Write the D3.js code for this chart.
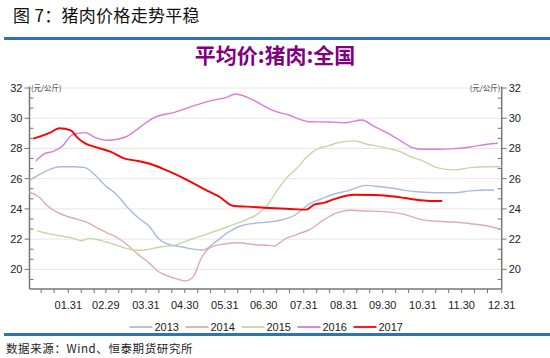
<!DOCTYPE html>
<html>
<head>
<meta charset="utf-8">
<script src="https://cdn.jsdelivr.net/npm/d3@7"></script>
<style>
  html, body { margin: 0; padding: 0; background: #fff; }
  svg { display: block; }
  text { font-family: "Liberation Sans", "DejaVu Sans", sans-serif; }
  .cjk { font-family: "Noto Sans CJK SC", sans-serif; }
</style>
</head>
<body>
<svg id="chart" width="550" height="358"></svg>
<script>
// series data (month-day on a common year axis, price in 元/公斤)
var years = ["2013", "2014", "2015", "2016", "2017"];

var dates2013 = ["01-01","01-09","01-17","01-24","02-04","02-13","02-20","02-29","03-08","03-17","03-25","04-03","04-09","04-17","04-28","05-08","05-14","05-23","06-02","06-12","06-23","07-04","07-13","07-24","08-05","08-13","08-23","09-03","09-17","09-28","10-05","10-17","10-29","11-11","11-24","12-07","12-20","12-25"];
var values2013 = [25.89,26.29,26.62,26.79,26.79,26.73,26.29,25.52,24.97,24.08,23.42,22.80,22.09,21.66,21.48,21.32,21.28,21.76,22.42,22.87,23.05,23.13,23.25,23.58,24.37,24.64,24.97,25.19,25.56,25.47,25.40,25.23,25.12,25.07,25.07,25.19,25.25,25.23];

var dates2014 = ["01-01","01-09","01-15","01-23","01-31","02-07","02-15","02-22","03-01","03-09","03-16","03-25","04-03","04-09","04-17","04-25","04-30","05-06","05-13","05-21","05-31","06-10","06-23","07-04","07-08","07-16","07-26","08-05","08-16","08-26","09-05","09-18","09-26","10-05","10-17","10-29","11-11","11-24","12-07","12-20","12-31"];
var values2014 = [25.12,24.74,24.19,23.75,23.48,23.31,23.09,22.76,22.42,22.09,21.66,20.99,20.38,19.89,19.56,19.34,19.23,19.44,20.77,21.50,21.68,21.76,21.63,21.59,21.54,21.99,22.32,22.65,23.31,23.75,23.91,23.86,23.84,23.79,23.64,23.31,23.18,23.13,23.02,22.87,22.65];

var dates2015 = ["01-07","01-15","01-25","02-04","02-10","02-16","02-25","03-06","03-14","03-22","03-27","04-03","04-11","04-22","05-05","05-18","06-02","06-17","06-25","07-03","07-11","07-18","07-26","08-03","08-11","08-19","08-26","09-08","09-18","09-28","10-05","10-14","10-22","10-29","11-11","11-24","12-07","12-20","12-31"];
var values2015 = [22.54,22.38,22.21,22.05,21.89,22.05,21.92,21.66,21.43,21.28,21.26,21.34,21.48,21.59,21.99,22.36,22.82,23.31,23.64,24.25,25.30,26.07,26.73,27.50,27.99,28.17,28.38,28.50,28.28,28.12,27.99,27.77,27.44,27.24,26.73,26.58,26.73,26.79,26.79];

var dates2016 = ["01-06","01-12","01-20","01-26","02-03","02-13","02-21","03-01","03-09","03-17","03-26","04-03","04-06","04-22","05-08","05-21","06-02","06-08","06-17","06-28","07-04","07-11","07-20","07-28","08-04","08-20","09-01","09-14","09-23","10-05","10-14","10-23","10-29","11-11","11-24","12-07","12-20","12-28"];
var values2016 = [27.17,27.62,27.83,28.12,28.89,29.05,28.72,28.54,28.61,28.83,29.38,29.87,30.02,30.39,30.85,31.18,31.40,31.60,31.40,30.92,30.63,30.40,30.20,29.92,29.77,29.75,29.70,29.88,29.48,28.97,28.50,28.05,27.95,27.95,27.99,28.10,28.28,28.34];

var dates2017 = ["01-04","01-17","01-24","02-02","02-07","02-13","02-20","03-04","03-14","03-25","04-03","04-17","05-02","05-18","05-26","06-07","06-17","07-04","07-18","08-02","08-08","08-16","08-23","09-08","09-23","10-05","10-17","10-29","11-07","11-15"];
var values2017 = [28.65,29.05,29.34,29.20,28.72,28.34,28.12,27.77,27.35,27.17,26.99,26.51,25.91,25.18,24.85,24.19,24.15,24.06,24.01,23.95,24.28,24.41,24.63,24.94,24.92,24.85,24.72,24.57,24.52,24.52];

var monthEnds = ["01-31","02-29","03-31","04-30","05-31","06-30","07-31","08-31","09-30","10-31","11-30","12-31"];
var yTicks = [20, 22, 24, 26, 28, 30, 32];

var colors = ["#a9b9e2", "#e2abab", "#c8d6a6", "#de7ad6", "#ff0000"];
var widths = [1.4, 1.4, 1.4, 1.4, 1.9];

var parse = function (md) { return d3.timeParse("%Y-%m-%d")("2016-" + md); };

var series = [
  { name: years[0], dates: dates2013, values: values2013 },
  { name: years[1], dates: dates2014, values: values2014 },
  { name: years[2], dates: dates2015, values: values2015 },
  { name: years[3], dates: dates2016, values: values2016 },
  { name: years[4], dates: dates2017, values: values2017 }
];

var svg = d3.select("#chart");

// header
svg.append("text")
  .attr("class", "cjk")
  .attr("x", 13)
  .attr("y", 22)
  .style("font-size", "17px")
  .style("letter-spacing", "0.3px")
  .style("fill", "#111")
  .text("图 7：猪肉价格走势平稳");

svg.append("rect").attr("x", 4).attr("y", 37).attr("width", 546).attr("height", 3).style("fill", "#2f73b3");
svg.append("rect").attr("x", 4).attr("y", 333).attr("width", 546).attr("height", 3).style("fill", "#2f73b3");

svg.append("text")
  .attr("class", "cjk")
  .attr("x", 275)
  .attr("y", 63)
  .attr("text-anchor", "middle")
  .style("font-size", "21px")
  .style("font-weight", "bold")
  .style("fill", "#800080")
  .text("平均价:猪肉:全国");

// scales
var plotL = 29.5, plotR = 501.7, plotT = 86.5, plotB = 289;
var x = d3.scaleTime()
  .domain([parse("01-01"), parse("12-31")])
  .range([plotL, plotR]);
var y = d3.scaleLinear()
  .domain([18.7, 32.1])
  .range([plotB, plotT]);

// grid
svg.append("g")
  .selectAll("line")
  .data(yTicks)
  .enter().append("line")
  .attr("x1", plotL).attr("x2", plotR)
  .attr("y1", function (d) { return y(d); })
  .attr("y2", function (d) { return y(d); })
  .style("stroke", "#e6e6e6")
  .style("stroke-width", 1);

// minor y ticks (every 2/3)
var minorY = [];
for (var v = 18 + 2 / 3; v < 32; v += 2 / 3) {
  if (v > 18.7 && Math.abs(v - Math.round(v)) > 0.01) minorY.push(v);
}

function yAxisSide(xPos, dir) {
  var g = svg.append("g");
  g.append("line")
    .attr("x1", xPos).attr("x2", xPos)
    .attr("y1", plotT).attr("y2", plotB)
    .style("stroke", "#777").style("stroke-width", 1.5);
  g.selectAll("line.major")
    .data(yTicks).enter().append("line")
    .attr("class", "major")
    .attr("x1", xPos).attr("x2", xPos + dir * 5)
    .attr("y1", function (d) { return y(d); })
    .attr("y2", function (d) { return y(d); })
    .style("stroke", "#777");
  g.selectAll("line.minor")
    .data(minorY).enter().append("line")
    .attr("class", "minor")
    .attr("x1", xPos).attr("x2", xPos - dir * 4)
    .attr("y1", function (d) { return y(d); })
    .attr("y2", function (d) { return y(d); })
    .style("stroke", "#777");
  g.selectAll("text")
    .data(yTicks).enter().append("text")
    .attr("x", xPos + dir * 7)
    .attr("y", function (d) { return y(d); })
    .attr("dy", "0.35em")
    .attr("text-anchor", dir < 0 ? "end" : "start")
    .style("font-size", "11px")
    .style("fill", "#222")
    .text(function (d) { return d; });
  g.append("text")
    .attr("class", "cjk")
    .attr("x", xPos - dir * 1.5)
    .attr("y", y(32) + 0.5)
    .attr("dy", "0.35em")
    .attr("text-anchor", dir < 0 ? "start" : "end")
    .style("font-size", "7.5px")
    .style("fill", "#333")
    .text("(元/公斤)");
}
yAxisSide(plotL, -1);
yAxisSide(plotR, 1);

// x axis
var xTickDates = [];
monthEnds.forEach(function (m) {
  var mm = m.slice(0, 3);
  xTickDates.push(parse(mm + "10"), parse(mm + "20"), parse(m));
});

var xg = svg.append("g");
xg.append("line")
  .attr("x1", plotL).attr("x2", plotR)
  .attr("y1", plotB).attr("y2", plotB)
  .style("stroke", "#777").style("stroke-width", 1.5);
xg.selectAll("line.tick")
  .data(xTickDates).enter().append("line")
  .attr("class", "tick")
  .attr("x1", function (d) { return x(d); })
  .attr("x2", function (d) { return x(d); })
  .attr("y1", plotB).attr("y2", plotB + 4)
  .style("stroke", "#777");
xg.selectAll("text")
  .data(monthEnds).enter().append("text")
  .attr("x", function (d) { return x(parse(d)); })
  .attr("y", 309)
  .attr("text-anchor", "middle")
  .style("font-size", "11px")
  .style("fill", "#222")
  .text(function (d) { return d.replace("-", "."); });

// lines
var line = d3.line()
  .x(function (d) { return x(d[0]); })
  .y(function (d) { return y(d[1]); })
  .curve(d3.curveMonotoneX);

svg.append("g")
  .selectAll("path")
  .data(series)
  .enter().append("path")
  .attr("d", function (s) {
    return line(s.dates.map(function (dt, i) { return [parse(dt), s.values[i]]; }));
  })
  .style("fill", "none")
  .style("stroke", function (s, i) { return colors[i]; })
  .style("stroke-width", function (s, i) { return widths[i]; })
  .style("stroke-linejoin", "round");

// legend
var legend = svg.append("g")
  .selectAll("g")
  .data(series)
  .enter().append("g")
  .attr("transform", function (d, i) { return "translate(" + (129.5 + i * 56) + ",327)"; });
legend.append("line")
  .attr("x1", 0).attr("x2", 23)
  .style("stroke", function (d, i) { return colors[i]; })
  .style("stroke-width", 1.8);
legend.append("text")
  .attr("x", 25)
  .attr("dy", "0.35em")
  .style("font-size", "11px")
  .style("fill", "#222")
  .text(function (d) { return d.name; });

// source
svg.append("text")
  .attr("class", "cjk")
  .attr("x", 6)
  .attr("y", 353)
  .style("font-size", "11.5px")
  .style("letter-spacing", "0.6px")
  .style("fill", "#222")
  .text("数据来源：Wind、恒泰期货研究所");
</script>
</body>
</html>
